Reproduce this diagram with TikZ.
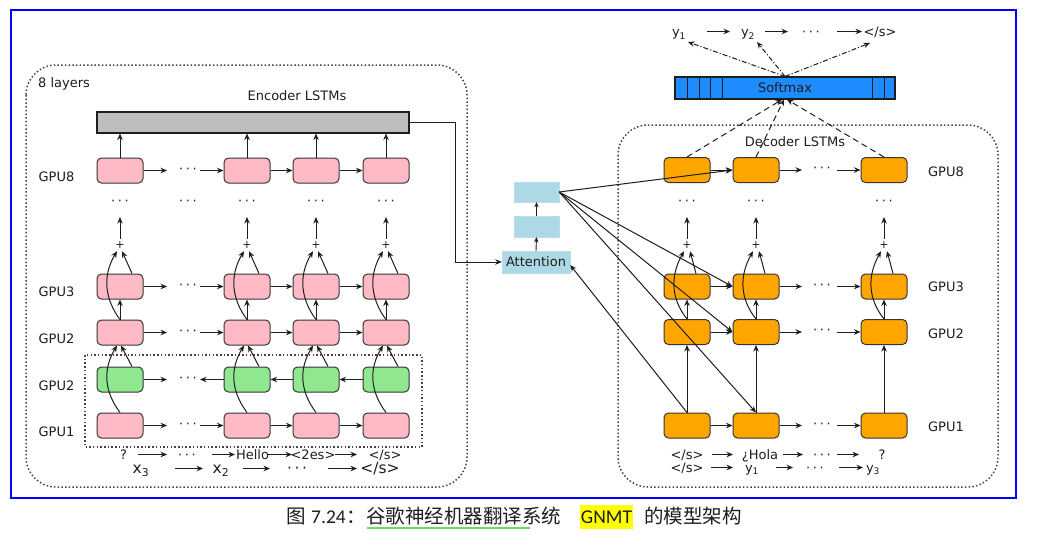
\documentclass[tikz,border=0pt]{standalone}
\usepackage{fontspec}
\setmainfont{DejaVu Sans}
\newfontfamily\cjkfont{Noto Sans CJK SC}
\newfontfamily\capfont{Carlito}
\usetikzlibrary{arrows.meta,calc}
\definecolor{pinkc}{HTML}{FFBAC6}
\definecolor{greenc}{HTML}{8FE88F}
\definecolor{orangec}{HTML}{FFA500}
\definecolor{greyc}{HTML}{BEBEBE}
\definecolor{softc}{HTML}{1E8CFF}
\definecolor{attc}{HTML}{ADD8E6}
\definecolor{inkc}{HTML}{1E1E1E}
\definecolor{framec}{HTML}{0000FF}
\definecolor{dotc}{HTML}{444444}
\definecolor{ulc}{HTML}{66DD66}
\definecolor{hlc}{HTML}{FFFF00}
\newcommand\mydts{·\kern2.6pt·\kern2.6pt·}
\tikzset{
  cellbox/.style={rectangle, rounded corners=4.5pt, draw=inkc!90, line width=1pt, minimum width=46pt, minimum height=25pt, inner sep=0pt},
  pinkcell/.style={cellbox, fill=pinkc},
  greencell/.style={cellbox, fill=greenc},
  orangecell/.style={cellbox, fill=orangec},
  arr/.style={-{Stealth[length=6.5pt,width=5.5pt]}, line width=1pt, draw=inkc},
  openarr/.style={-{Stealth[open,length=5pt,width=4.5pt]}, line width=0.9pt, draw=inkc},
  lbl/.style={font=\fontsize{13}{15}\selectfont, text=inkc, inner sep=0pt},
  seqlbl/.style={lbl, anchor=base},
  biglbl/.style={font=\fontsize{15.5}{18}\selectfont, text=inkc, inner sep=0pt, anchor=base},
  dotlbl/.style={lbl},
  plusnode/.style={font=\fontsize{11}{12}\selectfont, text=inkc, inner sep=0pt, minimum size=12pt},
  dotbox/.style={draw=dotc, line width=1.5pt, dash pattern=on 1.5pt off 2.2pt, rounded corners=30pt},
  dotrect/.style={draw=dotc, line width=1.4pt, dash pattern=on 1.5pt off 2.2pt},
  attbox/.style={fill=attc, draw=attc!85!white, inner sep=0pt, font=\fontsize{13}{15}\selectfont, text=inkc},
  dasharr/.style={arr, dash pattern=on 6pt off 4pt},
  dotdash/.style={arr, dash pattern=on 5pt off 2pt on 1.2pt off 2pt},
  cjk/.style={font=\cjkfont\fontsize{19.5}{22}\selectfont, text=inkc, anchor=base west, inner sep=0pt},
  capl/.style={font=\capfont\fontsize{19.5}{22}\selectfont, text=inkc, inner sep=0pt},
}
\begin{document}
\begin{tikzpicture}[x=1pt,y=-1pt]
\useasboundingbox (0,0) rectangle (1040,533);
\fill[white] (0,0) rectangle (1040,533);
\draw[framec, line width=2pt] (11,10) rectangle (1016,498);
\draw[dotbox] (26,65) rectangle (467,487);
\draw[dotbox] (618,125) rectangle (998,487);
\draw[dotrect] (85,355) rectangle (422,447);

% ---------------- encoder ----------------
\node[lbl, anchor=west] (layers) at (38,84) {8 layers};
\node[lbl] (enclbl) at (297,96) {Encoder LSTMs};
\node[draw=inkc, line width=1.1pt, fill=greyc, minimum width=312pt, minimum height=21pt, inner sep=0pt] (encbar) at (253,122.5) {};

\node[lbl] (lg8) at (56.5,177) {GPU8};
\node[lbl] (lg3) at (56.5,292) {GPU3};
\node[lbl] (lg2) at (56.5,338.5) {GPU2};
\node[lbl] (lgg) at (56.5,386) {GPU2};
\node[lbl] (lg1) at (56.5,432) {GPU1};

\foreach \cl/\x in {a/120,b/247,c/316,d/386}{
  \node[pinkcell] (e\cl8) at (\x,170.5) {};
  \node[pinkcell] (e\cl3) at (\x,286.5) {};
  \node[pinkcell] (e\cl2) at (\x,332.5) {};
  \node[greencell] (e\cl g) at (\x,379.5) {};
  \node[pinkcell] (e\cl1) at (\x,425.5) {};
  \node[dotlbl] (ev\cl) at (\x,203) {\mydts};
  \node[plusnode] (ep\cl) at (\x,245) {+};
  \coordinate (et\cl) at (\x,217);
}
\node[dotlbl] (evx) at (188,203) {\mydts};

\foreach \rw/\y in {8/170.5,3/286.5,2/332.5,g/379.5,1/425.5}{
  \node[dotlbl] (er\rw) at (188,\y) {\mydts};
  \coordinate (hl\rw) at (167,\y);
  \coordinate (hr\rw) at (200,\y);
}
\foreach \rw in {8,3,2,1}{
  \draw[arr] (ea\rw.east) -- (hl\rw);
  \draw[arr] (hr\rw) -- (eb\rw.west);
  \draw[arr] (eb\rw.east) -- (ec\rw.west);
  \draw[arr] (ec\rw.east) -- (ed\rw.west);
}
\draw[arr] (eag.east) -- (hlg);
\draw[arr] (ebg.west) -- (hrg);
\draw[arr] (ecg.west) -- (ebg.east);
\draw[arr] (edg.west) -- (ecg.east);

\foreach \cl in {a,b,c,d}{
  \draw[arr] (e\cl8.north) -- (e\cl8.north |- encbar.south);
  \draw[arr] (e\cl1.north) .. controls +(-15,-20) and +(-15,25) .. ([xshift=-3pt]e\cl2.south);
  \draw[arr] ([xshift=12pt]e\cl g.north) -- ([xshift=1pt]e\cl2.south);
  \draw[arr] (e\cl2.north) -- (e\cl3.south);
  \draw[arr] (e\cl2.north) .. controls +(-15,-20) and +(-15,25) .. ([xshift=-3pt]ep\cl.south);
  \draw[arr] ([xshift=12pt]e\cl3.north) -- ([xshift=2pt]ep\cl.south);
  \draw[arr] (ep\cl.north) -- (et\cl);
}

% encoder input sequences
\node[seqlbl] (iq) at (123.5,459) {?};
\node[seqlbl] (idots) at (187,459) {\mydts};
\node[seqlbl] (ihello) at (252.5,459) {Hello};
\node[seqlbl] (ies) at (313,459) {<2es>};
\node[seqlbl] (iend) at (385,459) {</s>};
\draw[arr] ([xshift=14.5pt,yshift=4.5pt]iq.base) -- ([xshift=-20pt,yshift=4.5pt]idots.base);
\draw[arr] ([xshift=25pt,yshift=4.5pt]idots.base) -- ([xshift=-17.5pt,yshift=4.5pt]ihello.base);
\draw[arr] ([xshift=15.5pt,yshift=4.5pt]ihello.base) -- ([xshift=-21pt,yshift=4.5pt]ies.base);
\draw[arr] ([xshift=22pt,yshift=4.5pt]ies.base) -- ([xshift=-28pt,yshift=4.5pt]iend.base);

\node[biglbl] (x3) at (141,473) {x\textsubscript{3}};
\node[biglbl] (x2) at (221,473) {x\textsubscript{2}};
\node[biglbl] (xdots) at (297,473) {\mydts};
\node[biglbl] (xend) at (380,473) {</s>};
\draw[arr] ([xshift=34pt,yshift=4.5pt]x3.base) -- ([xshift=-18pt,yshift=4.5pt]x2.base);
\draw[arr] ([xshift=22pt,yshift=4.5pt]x2.base) -- ([xshift=-27pt,yshift=4.5pt]xdots.base);
\draw[arr] ([xshift=31pt,yshift=4.5pt]xdots.base) -- ([xshift=-23pt,yshift=4.5pt]xend.base);

% ---------------- attention ----------------
\node[attbox, minimum width=68pt, minimum height=22pt] (att) at (536,262) {Attention};
\node[attbox, minimum width=45pt, minimum height=21pt] (b2) at (536.5,226.5) {};
\node[attbox, minimum width=45pt, minimum height=20pt] (b3) at (536.5,192) {};
\draw[openarr] (att.north) -- (b2.south);
\draw[openarr] (b2.north) -- (b3.south);
\draw[arr] (encbar.east) -- ++(46,0) |- (att.west);

% ---------------- decoder ----------------
\node[lbl] (declbl) at (795,142) {Decoder LSTMs};
\node[lbl] (dg8) at (946,171.5) {GPU8};
\node[lbl] (dg3) at (946,287) {GPU3};
\node[lbl] (dg2) at (946,334) {GPU2};
\node[lbl] (dg1) at (946,427) {GPU1};

\foreach \cl/\x in {a/687,b/756,c/884}{
  \node[orangecell] (d\cl8) at (\x,170) {};
  \node[orangecell] (d\cl3) at (\x,286.5) {};
  \node[orangecell] (d\cl2) at (\x,332) {};
  \node[orangecell] (d\cl1) at (\x,425.5) {};
  \node[dotlbl] (dv\cl) at (\x,203) {\mydts};
  \node[plusnode] (dp\cl) at (\x,245) {+};
  \coordinate (dt\cl) at (\x,217);
}
\foreach \rw/\y in {8/170,3/286.5,2/332,1/425.5}{
  \node[dotlbl] (dr\rw) at (822,\y) {\mydts};
  \coordinate (dl\rw) at (802,\y);
  \coordinate (dq\rw) at (837,\y);
  \draw[arr] (da\rw.east) -- (db\rw.west);
  \draw[arr] (db\rw.east) -- (dl\rw);
  \draw[arr] (dq\rw) -- (dc\rw.west);
}
\foreach \cl in {a,b,c}{
  \draw[arr] (d\cl1.north) -- (d\cl2.south);
  \draw[arr] (d\cl2.north) -- (d\cl3.south);
  \draw[arr] (d\cl2.north) .. controls +(-16,-20) and +(-14,25) .. ([xshift=-3pt]dp\cl.south);
  \draw[arr] ([xshift=9pt]d\cl3.north) -- ([xshift=3pt]dp\cl.south);
  \draw[arr] (dp\cl.north) -- (dt\cl);
}

% attention to decoder
\draw[arr] (b3.east) -- (db8.west);
\draw[arr] (b3.east) -- (db3.west);
\draw[arr] (b3.east) -- (db2.west);
\draw[arr] (b3.east) -- (db1.north);
\draw[arr] (da1.north) -- ([yshift=-3pt]att.east);

% decoder input sequences
\node[seqlbl] (o1) at (687,459) {</s>};
\node[seqlbl] (ohola) at (760,459) {¿Hola};
\node[seqlbl] (odots) at (822,459) {\mydts};
\node[seqlbl] (oq) at (882,459) {?};
\draw[arr] ([xshift=25pt,yshift=4.5pt]o1.base) -- ([xshift=-27pt,yshift=4.5pt]ohola.base);
\draw[arr] ([xshift=23pt,yshift=4.5pt]ohola.base) -- ([xshift=-19pt,yshift=4.5pt]odots.base);
\draw[arr] ([xshift=15pt,yshift=4.5pt]odots.base) -- ([xshift=-23pt,yshift=4.5pt]oq.base);

\node[seqlbl] (p1) at (687,472) {</s>};
\node[seqlbl] (py1) at (752,472) {y\textsubscript{1}};
\node[seqlbl] (pdots) at (815,472) {\mydts};
\node[seqlbl] (py3) at (873,472) {y\textsubscript{3}};
\draw[arr] ([xshift=24pt,yshift=4.5pt]p1.base) -- ([xshift=-19pt,yshift=4.5pt]py1.base);
\draw[arr] ([xshift=24pt,yshift=4.5pt]py1.base) -- ([xshift=-22pt,yshift=4.5pt]pdots.base);
\draw[arr] ([xshift=24pt,yshift=4.5pt]pdots.base) -- ([xshift=-10pt,yshift=4.5pt]py3.base);

% ---------------- softmax & outputs ----------------
\node[draw=inkc, line width=1.1pt, fill=softc, minimum width=220pt, minimum height=22pt, lbl] (soft) at (785,88) {Softmax};
\foreach \v in {687,699,710,722,872,884}{
  \draw[inkc, line width=1pt] (\v,77) -- (\v,99);
}
\draw[dasharr] (da8.north) -- ([xshift=-3pt]soft.south);
\draw[dasharr] (db8.north) -- ([xshift=-1pt]soft.south);
\draw[dasharr] (dc8.north) -- ([xshift=2pt]soft.south);

\node[seqlbl] (ty1) at (679,36.5) {y\textsubscript{1}};
\node[seqlbl] (ty2) at (748,36.5) {y\textsubscript{2}};
\node[seqlbl] (tdots) at (811,36.5) {\mydts};
\node[seqlbl] (tend) at (880,36.5) {</s>};
\draw[arr] ([xshift=28pt,yshift=5pt]ty1.base) -- ([xshift=-18pt,yshift=5pt]ty2.base);
\draw[arr] ([xshift=17pt,yshift=5pt]ty2.base) -- ([xshift=-23pt,yshift=5pt]tdots.base);
\draw[arr] ([xshift=26pt,yshift=5pt]tdots.base) -- ([xshift=-18pt,yshift=5pt]tend.base);
\draw[dotdash] (soft.north) -- ([xshift=9pt,yshift=-5.5pt]ty1.base);
\draw[dotdash] (soft.north) -- ([xshift=9pt,yshift=-5.5pt]ty2.base);
\draw[dotdash] (soft.north) -- ([xshift=-10pt,yshift=-6.5pt]tend.base);

% ---------------- caption ----------------
\node[cjk] (c1) at (286,523) {图};
\node[capl, anchor=base west] (c2) at (311,523) {7.24};
\node[cjk] (c3) at (346,523) {：};
\node[cjk] (c4) at (366,523) {谷歌神经机器翻译系统};
\draw[ulc, line width=1.5pt] (367,528) -- (530,528);
\node[fill=hlc, minimum width=53pt, minimum height=24pt, inner sep=0pt] (hl) at (606.5,517) {};
\node[capl, anchor=base] (c5) at (606.5,523) {GNMT};
\node[cjk] (c6) at (644,523) {的模型架构};
\end{tikzpicture}
\end{document}
